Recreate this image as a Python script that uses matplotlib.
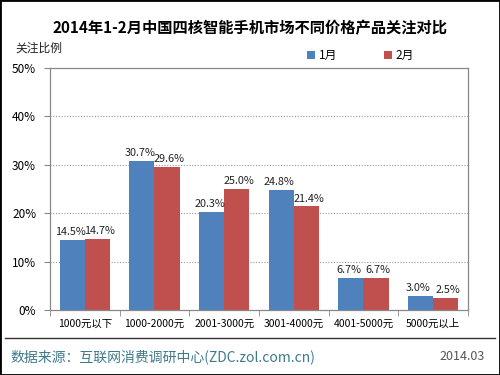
import matplotlib
matplotlib.use("Agg")
import matplotlib.pyplot as plt
import numpy as np

plt.rcParams['font.family'] = ['Noto Sans CJK SC', 'DejaVu Sans']

categories = ["1000元以下", "1000-2000元", "2001-3000元", "3001-4000元", "4001-5000元", "5000元以上"]
jan = [14.5, 30.7, 20.3, 24.8, 6.7, 3.0]
feb = [14.7, 29.6, 25.0, 21.4, 6.7, 2.5]
series_names = ["1月", "2月"]
yticks = [0, 10, 20, 30, 40, 50]

blue = '#4F81BD'
red = '#C0504D'

fig = plt.figure(figsize=(5, 3.75), dpi=100)
ax = fig.add_axes([0.1, 0.173, 0.836, 0.646])

x = np.arange(len(categories))
w = 0.36
ax.bar(x - w / 2, jan, w, color=blue, label=series_names[0])
ax.bar(x + w / 2, feb, w, color=red, label=series_names[1])

# value labels, nudged apart a little so neighbours don't collide
for xi, v in zip(x - w / 2, jan):
    ax.text(xi - 0.03, v + 0.6, f"{v:.1f}%", ha='center', va='bottom', fontsize=7.8, color='#222222')
for xi, v in zip(x + w / 2, feb):
    ax.text(xi + 0.03, v + 0.6, f"{v:.1f}%", ha='center', va='bottom', fontsize=7.8, color='#222222')

ax.set_xlim(-0.5, len(categories) - 0.5)
ax.set_ylim(0, 50)
ax.set_yticks(yticks)
ax.set_yticklabels([f"{t}%" for t in yticks], fontsize=8.5)
ax.set_xticks(x)
ax.set_xticklabels(categories, fontsize=7.5)
ax.set_xticks(np.arange(len(categories) + 1) - 0.5, minor=True)
ax.tick_params(axis='x', which='major', length=0, pad=6)
ax.tick_params(axis='x', which='minor', length=4, color='#888888')
ax.tick_params(axis='y', length=4, color='#888888', pad=6)

for t in yticks[1:-1]:
    ax.axhline(t, color='#999999', linestyle=(0, (1, 1.5)), linewidth=0.8, zorder=0)

for s in ax.spines.values():
    s.set_color('#888888')
    s.set_linewidth(0.9)

fig.text(0.5, 0.925, "2014年1-2月中国四核智能手机市场不同价格产品关注对比",
         ha='center', va='center', fontsize=11, fontweight='bold')
fig.text(0.03, 0.872, "关注比例", ha='left', va='center', fontsize=8.5, color='#222222')

ax.legend(loc='lower left', bbox_to_anchor=(0.6, 1.0), ncol=2, frameon=False,
          fontsize=8.5, handlelength=0.7, handleheight=0.7, columnspacing=4.0,
          handletextpad=0.3, borderaxespad=0.1)

fig.add_artist(plt.Line2D([0.01, 0.99], [0.1, 0.1], color='#333333', linewidth=1))
fig.text(0.02, 0.048, "数据来源：互联网消费调研中心(ZDC.zol.com.cn)", ha='left', va='center',
         fontsize=10, color='#3f7a8a')
fig.text(0.97, 0.048, "2014.03", ha='right', va='center', fontsize=9, color='#555555')

fig.add_artist(plt.Rectangle((0, 0), 1, 1, fill=False, edgecolor='black', linewidth=2,
                             transform=fig.transFigure))

fig.savefig("out.png", dpi=100)
